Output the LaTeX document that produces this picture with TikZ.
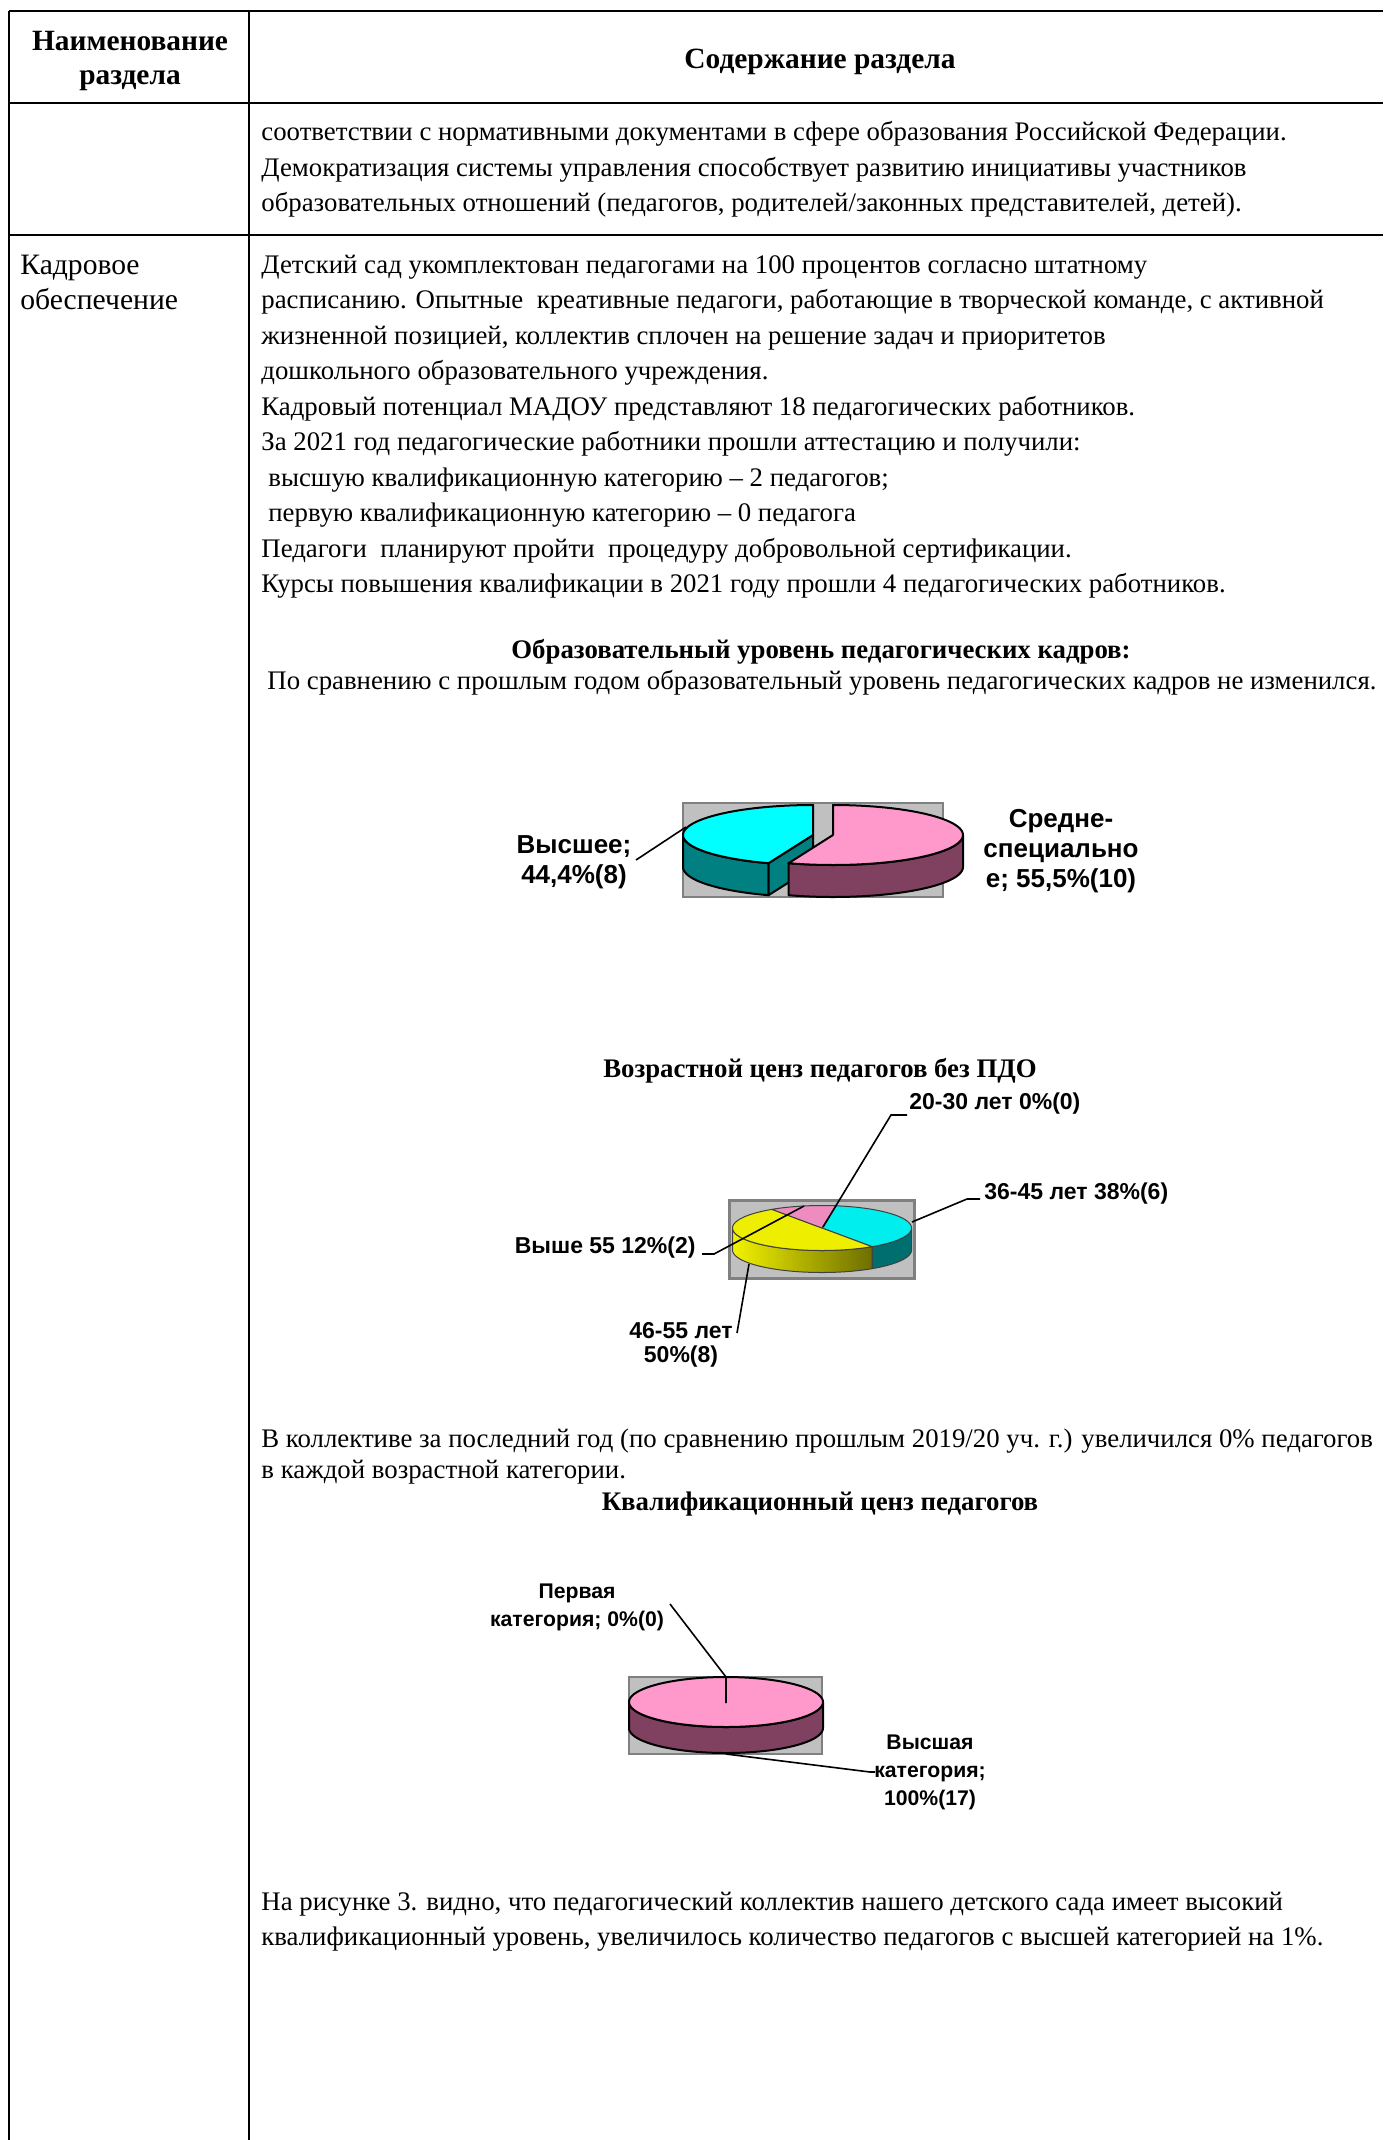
\documentclass[tikz,border=0pt]{standalone}
\usepackage{fontspec}
\setmainfont{Liberation Serif}
\newfontfamily\arialf{Liberation Sans}
\definecolor{pinkTop}{HTML}{FF99CC}
\definecolor{mauve}{HTML}{804060}
\definecolor{cyanC}{HTML}{00FFFF}
\definecolor{tealC}{HTML}{008080}
\definecolor{grayBox}{HTML}{C0C0C0}
\definecolor{grayEdge}{HTML}{808080}
\definecolor{cyanB}{HTML}{00EEEE}
\definecolor{tealB}{HTML}{006E6E}
\definecolor{yelB}{HTML}{EEEE00}
\definecolor{yelL}{HTML}{F2F200}
\definecolor{oliveB}{HTML}{6E6E00}
\definecolor{pinkB}{HTML}{EE8CC0}
\newcommand\bodyf{\fontsize{13.4}{17.75}\selectfont}
\newcommand\leftf{\fontsize{14.8}{17.75}\selectfont}
\newcommand\boldf{\bfseries\fontsize{13.4}{17.75}\selectfont}
\newcommand\headf{\bfseries\fontsize{14.7}{17.75}\selectfont}
\newcommand\pietop[7]{\path[#1] (#2,#3) -- plot[domain=#6:#7, samples=60] ({#2+#4*cos(\x)},{#3+#5*sin(\x)}) -- cycle;}
\newcommand\pieside[8]{\path[#1] plot[domain=#7:#8, samples=60] ({#2+#4*cos(\x)},{#3+#5*sin(\x)}) -- plot[domain=#8:#7, samples=60] ({#2+#4*cos(\x)},{#3+#6+#5*sin(\x)}) -- cycle;}
\tikzset{
  txt/.style={anchor=base west, inner sep=0pt, font=\bodyf},
  lefttxt/.style={anchor=base west, inner sep=0pt, font=\leftf},
  hd/.style={anchor=base, inner sep=0pt, font=\boldf},
  headtxt/.style={anchor=base, inner sep=0pt, font=\headf},
  rule/.style={line width=1pt, black},
  chartbox/.style={fill=grayBox, draw=grayEdge, line width=1pt},
  pieline/.style={draw=black, line width=1pt, line join=round},
  pielinethin/.style={draw=black!75, line width=0.5pt, line join=round},
  leader/.style={draw=black, line width=0.8pt},
  lblA/.style={font=\arialf\bfseries\fontsize{13}{15}\selectfont, inner sep=0pt, align=center},
  lblB/.style={font=\arialf\bfseries\fontsize{11.5}{12}\selectfont, inner sep=0pt, align=center},
  lblC/.style={font=\arialf\bfseries\fontsize{10.6}{14}\selectfont, inner sep=0pt, align=center}
}
\begin{document}
\begin{tikzpicture}[x=0.5pt, y=-0.5pt]
\useasboundingbox (0,0) rectangle (1383,2140);
% table rules
\draw[rule] (9,11) -- (1383,11);
\draw[rule] (9,103) -- (1383,103);
\draw[rule] (9,235) -- (1383,235);
\draw[rule] (9,11) -- (9,2140);
\draw[rule] (249,11) -- (249,2140);
% header
\node[headtxt] (h1a) at (130,51) {Наименование};
\node[headtxt] (h1b) at (130,85) {раздела};
\node[headtxt] (h2) at (820,69) {Содержание раздела};
% row 1
\node[txt] (r1a) at (261,141) {соответствии с нормативными документами в сфере образования Российской Федерации.};
\node[txt] (r1b) at (261,177) {Демократизация системы управления способствует развитию инициативы участников};
\node[txt] (r1c) at (261,212) {образовательных отношений (педагогов, родителей/законных представителей, детей).};
% row 2 left
\node[lefttxt] (k1) at (20,274) {Кадровое};
\node[lefttxt] (k2) at (20,309) {обеспечение};
% row 2 body
\node[txt] (t1) at (261,273) {Детский сад укомплектован педагогами на 100 процентов согласно штатному};
\node[txt] (t2) at (261,308.5) {расписанию. Опытные~ креативные педагоги, работающие в творческой команде, с активной};
\node[txt] (t3) at (261,344) {жизненной позицией, коллектив сплочен на решение задач и приоритетов};
\node[txt] (t4) at (261,379.5) {дошкольного образовательного учреждения.};
\node[txt] (t5) at (261,415) {Кадровый потенциал МАДОУ представляют 18 педагогических работников.};
\node[txt] (t6) at (261,450.5) {За 2021 год педагогические работники прошли аттестацию и получили:};
\node[txt] (t7) at (268,486) {высшую квалификационную категорию – 2 педагогов;};
\node[txt] (t8) at (268,521.5) {первую квалификационную категорию – 0 педагога};
\node[txt] (t9) at (261,557) {Педагоги~ планируют пройти~ процедуру добровольной сертификации.};
\node[txt] (t10) at (261,592.5) {Курсы повышения квалификации в 2021 году прошли 4 педагогических работников.};
\node[hd] (ttl1) at (821,658) {Образовательный уровень педагогических кадров:};
\node[txt] (t11) at (267,689) {По сравнению с прошлым годом образовательный уровень педагогических кадров не изменился.};
% ---------- chart 1 ----------
\path[chartbox] (683,803) rectangle (943,897);
\pieside{pieline, fill=tealC}{813}{835}{130}{30}{32}{110}{180}
\path[pieline, fill=tealC] (813,835) -- (768.5,863.2) -- (768.5,895.2) -- (813,867) -- cycle;
\pietop{pieline, fill=cyanC}{813}{835}{130}{30}{110}{270}
\pieside{pieline, fill=mauve}{833}{835}{130}{30}{32}{0}{110}
\pietop{pieline, fill=pinkTop}{833}{835}{130}{30}{-90}{110}
\node[lblA] (v1) at (574,862) {Высшее;\\44,4\%(8)};
\node[lblA] (v2) at (1061,851) {Средне-\\специально\\е; 55,5\%(10)};
\coordinate (v1s) at (636,860);
\coordinate (v1e) at (686,827);
\draw[leader] (v1s) -- (v1e);
% ---------- chart 2 ----------
\node[hd] (ttl2) at (820,1077) {Возрастной ценз педагогов без ПДО};
\path[chartbox, line width=1.5pt] (729,1200) rectangle (914,1278);
\pieside{pielinethin, fill=tealB}{822}{1228}{89.5}{22.5}{22}{0}{56}
\pieside{pielinethin, left color=yelL, right color=oliveB}{822}{1228}{89.5}{22.5}{22}{56}{180}
\pietop{pielinethin, fill=cyanB}{822}{1228}{89.5}{22.5}{-81}{56}
\pietop{pielinethin, fill=yelB}{822}{1228}{89.5}{22.5}{56}{236}
\pietop{pielinethin, fill=pinkB}{822}{1228}{89.5}{22.5}{236}{279}
\node[lblB, anchor=west] (a0) at (909,1104) {20-30 лет 0\%(0)};
\node[lblB, anchor=west] (b0) at (984,1194) {36-45 лет 38\%(6)};
\node[lblB, anchor=east] (c0) at (696,1248) {Выше 55 12\%(2)};
\node[lblB] (d0) at (681,1345) {46-55 лет\\50\%(8)};
\coordinate (a1) at (907,1115); \coordinate (a2) at (891,1115); \coordinate (a3) at (823,1227);
\coordinate (b1) at (980,1199); \coordinate (b2) at (967,1199); \coordinate (b3) at (912,1222);
\coordinate (c1) at (702,1254); \coordinate (c2) at (714,1254); \coordinate (c3) at (804,1206);
\coordinate (d1) at (737,1333); \coordinate (d2) at (749,1264);
\draw[leader] (a1) -- (a2) -- (a3);
\draw[leader] (b1) -- (b2) -- (b3);
\draw[leader] (c1) -- (c2) -- (c3);
\draw[leader] (d1) -- (d2);
% text between charts
\node[txt] (t12) at (261,1447) {В коллективе за последний год (по сравнению прошлым 2019/20 уч. г.) увеличился 0\% педагогов};
\node[txt] (t13) at (261,1478) {в каждой возрастной категории.};
\node[hd] (ttl3) at (820,1510) {Квалификационный ценз педагогов};
% ---------- chart 3 ----------
\path[chartbox] (629,1677) rectangle (822,1754);
\pieside{pieline, fill=mauve}{726}{1702}{97}{25}{26}{0}{180}
\path[pieline, fill=pinkTop] plot[domain=0:360, samples=90] ({726+97*cos(\x)},{1702+25*sin(\x)}) -- cycle;
\node[lblC] (e0) at (577,1607) {Первая\\категория; 0\%(0)};
\node[lblC] (f0) at (930,1772) {Высшая\\категория;\\100\%(17)};
\coordinate (e1) at (726,1703); \coordinate (e2) at (726,1677); \coordinate (e3) at (670,1604);
\coordinate (f1) at (726,1754); \coordinate (f2) at (870,1772); \coordinate (f3) at (875,1772);
\draw[leader] (e1) -- (e2) -- (e3);
\draw[leader] (f1) -- (f2) -- (f3);
% final text
\node[txt] (t14) at (261,1910) {На рисунке 3. видно, что педагогический коллектив нашего детского сада имеет высокий};
\node[txt] (t15) at (261,1945) {квалификационный уровень, увеличилось количество педагогов с высшей категорией на 1\%.};
\end{tikzpicture}
\end{document}
